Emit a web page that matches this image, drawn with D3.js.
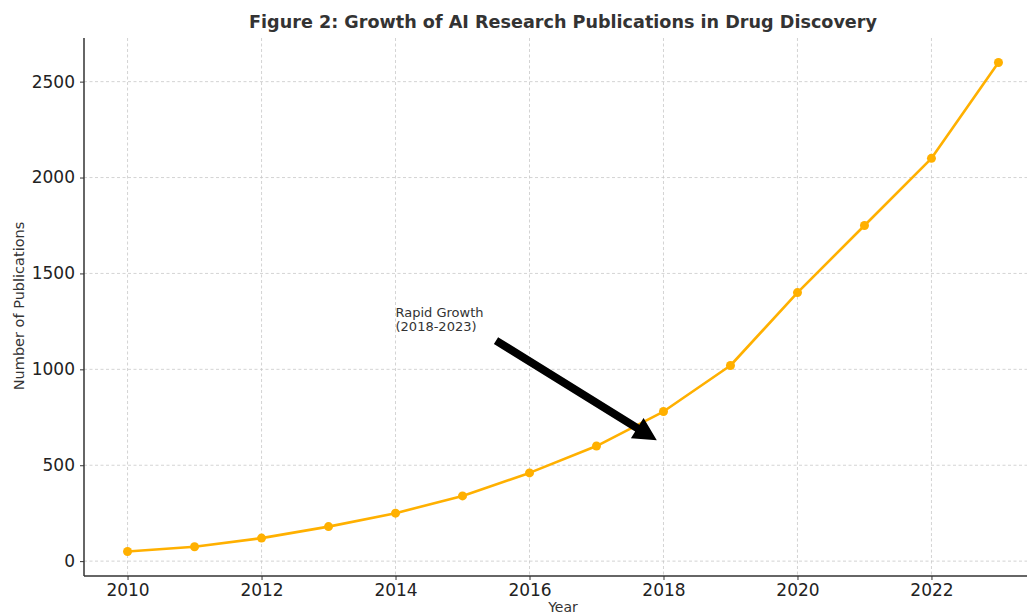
<!DOCTYPE html>
<html>
<head>
<meta charset="utf-8">
<script src="https://d3js.org/d3.v7.min.js"></script>
<style>
  * { margin: 0; padding: 0; }
  body { background: #fff; }
  svg text { font-family: "DejaVu Sans", sans-serif; }
</style>
</head>
<body>
<div id="chart"></div>
<script>
// data
var years = [2010, 2011, 2012, 2013, 2014, 2015, 2016, 2017, 2018, 2019, 2020, 2021, 2022, 2023];
var publications = [50, 75, 120, 180, 250, 340, 460, 600, 780, 1020, 1400, 1750, 2100, 2600];
var xTicks = [2010, 2012, 2014, 2016, 2018, 2020, 2022];
var yTicks = [0, 500, 1000, 1500, 2000, 2500];
var annoText = ["Rapid Growth", "(2018-2023)"];
var annoPos = [2014, 1200];
var arrowFrom = [2015.5, 1150];
var arrowTo = [2017.9, 630];

var width = 1027, height = 616;
var mLeft = 84, mRight = 1042, mTop = 38, mBottom = 576;
var col = "#ffb000";

var svg = d3.select("#chart").append("svg")
  .attr("width", width).attr("height", height);

var x = d3.scaleLinear().domain([2009.35, 2023.65]).range([mLeft, mRight]);
var y = d3.scaleLinear().domain([-77.5, 2727.5]).range([mBottom, mTop]);

// grid
svg.append("g").selectAll("line").data(xTicks.concat([2024])).enter().append("line")
  .attr("x1", d => x(d)).attr("x2", d => x(d))
  .attr("y1", mTop).attr("y2", mBottom)
  .attr("stroke", "#c8c8c8").attr("stroke-width", 0.8).attr("stroke-dasharray", "3,2.5");
svg.append("g").selectAll("line").data(yTicks).enter().append("line")
  .attr("x1", mLeft).attr("x2", mRight)
  .attr("y1", d => y(d)).attr("y2", d => y(d))
  .attr("stroke", "#c8c8c8").attr("stroke-width", 0.8).attr("stroke-dasharray", "3,2.5");

// axes
var xAxis = d3.axisBottom(x).tickValues(xTicks).tickFormat(d3.format("d")).tickSize(4).tickPadding(4);
var gx = svg.append("g").attr("transform", "translate(0," + mBottom + ")").call(xAxis);
var yAxis = d3.axisLeft(y).tickValues(yTicks).tickFormat(d3.format("d")).tickSize(4).tickPadding(5);
var gy = svg.append("g").attr("transform", "translate(" + mLeft + ",0)").call(yAxis);
[gx, gy].forEach(function(g) {
  g.attr("font-family", null).attr("font-size", null);
  g.select(".domain").attr("stroke", "#333").attr("stroke-width", 1.5);
  g.selectAll(".tick line").attr("stroke", "#333");
  g.selectAll(".tick text").attr("fill", "#222").style("font-size", "17px");
});
gx.select(".domain").attr("d", "M" + mLeft + ",0H" + mRight);
gy.select(".domain").attr("d", "M0," + mBottom + "V" + mTop);

// line
var line = d3.line().x((d, i) => x(years[i])).y(d => y(d));
svg.append("path").datum(publications)
  .attr("d", line).attr("fill", "none")
  .attr("stroke", col).attr("stroke-width", 2.6).attr("stroke-linejoin", "round");
svg.append("g").selectAll("circle").data(publications).enter().append("circle")
  .attr("cx", (d, i) => x(years[i])).attr("cy", d => y(d))
  .attr("r", 4.5).attr("fill", col);

// annotation
svg.append("text").attr("x", x(annoPos[0])).attr("y", y(annoPos[1]) - 14)
  .attr("fill", "#333").style("font-size", "13px")
  .selectAll("tspan").data(annoText).enter().append("tspan")
  .attr("x", x(annoPos[0])).attr("dy", (d, i) => i ? 14 : 0).text(d => d);

var x1 = x(arrowFrom[0]), y1 = y(arrowFrom[1]), x2 = x(arrowTo[0]), y2 = y(arrowTo[1]);
var ang = Math.atan2(y2 - y1, x2 - x1);
var hl = 23, hw = 12, sw = 4;
var bx = x2 - hl * Math.cos(ang), by = y2 - hl * Math.sin(ang);
var px = -Math.sin(ang), py = Math.cos(ang);
var pts = [
  [x1 + px * sw, y1 + py * sw],
  [bx + px * sw, by + py * sw],
  [bx + px * hw, by + py * hw],
  [x2, y2],
  [bx - px * hw, by - py * hw],
  [bx - px * sw, by - py * sw],
  [x1 - px * sw, y1 - py * sw]
];
svg.append("path").attr("d", "M" + pts.map(p => p.join(",")).join("L") + "Z").attr("fill", "#000");

// labels
svg.append("text").attr("x", (mLeft + mRight) / 2).attr("y", 28)
  .attr("text-anchor", "middle").attr("fill", "#333")
  .style("font-size", "17.6px").style("font-weight", "bold")
  .text("Figure 2: Growth of AI Research Publications in Drug Discovery");
svg.append("text").attr("x", (mLeft + mRight) / 2).attr("y", 612)
  .attr("text-anchor", "middle").attr("fill", "#333").style("font-size", "14px").text("Year");
svg.append("text").attr("transform", "translate(24," + ((mTop + mBottom) / 2 - 1) + ") rotate(-90)")
  .attr("text-anchor", "middle").attr("fill", "#333").style("font-size", "14.5px")
  .text("Number of Publications");
</script>
</body>
</html>
